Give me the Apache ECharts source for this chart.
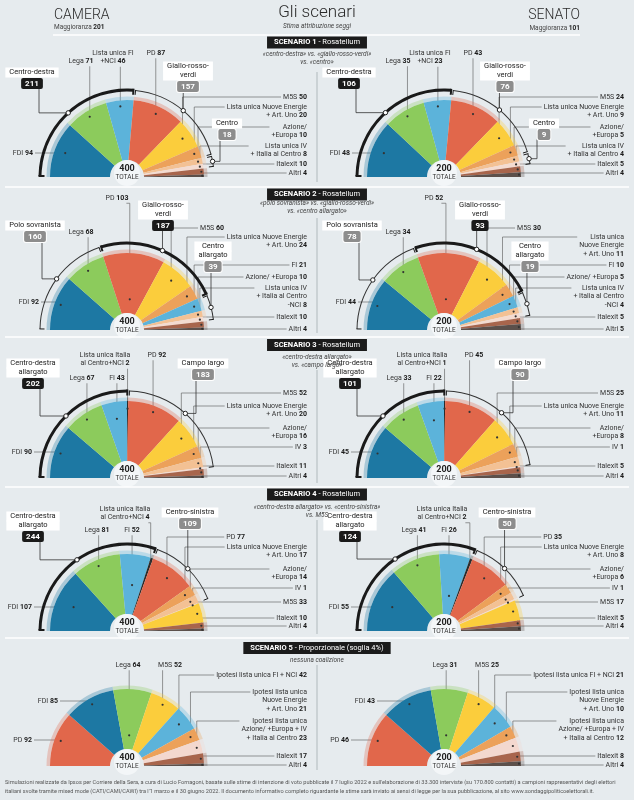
<!DOCTYPE html>
<html>
<head>
<meta charset="utf-8">
<script src="https://cdn.jsdelivr.net/npm/echarts@6/dist/echarts.min.js"></script>
<style>
html, body { margin: 0; background: #e6ebee; }
#chart { width: 634px; height: 800px; }
</style>
</head>
<body>
<div id="chart"></div>
<script>
"use strict";

const FONT = 'Roboto, "Noto Sans", sans-serif';

const colors = {
	fdi: "#1d78a3", lega: "#8ccb5c", fi: "#5cb3da", itc: "#2b2b2b", pd: "#e1674b",
	m5s: "#fbcd3c", ne: "#eca15a", az: "#f3c194", iv: "#f4dbd0", italexit: "#a8654c",
	altri: "#5c504b", aziv: "#f3d8cf"
};

// --- scenario 1
const s1Keys = ["fdi", "lega", "fi", "pd", "m5s", "ne", "az", "iv", "italexit", "altri"];
const s1Names = ["FDI", "Lega", "Lista unica FI\n+NCI", "PD", "M5S", "Lista unica Nuove Energie\n+ Art. Uno",
	"Azione/\n+Europa", "Lista unica IV\n+ Italia al Centro", "Italexit", "Altri"];
const s1Camera = [94, 71, 46, 87, 50, 20, 10, 8, 10, 4];
const s1Senato = [48, 35, 23, 43, 24, 9, 5, 4, 5, 4];
const s1Coalitions = ["Centro-destra", "Giallo-rosso-\nverdi", "Centro"];
const s1CoalSize = [3, 3, 2];
const s1Labels = [["L", -94, -24], ["T", -46, -116], ["T", -14, -124], ["T", 29, -124], ["R", 180, -80],
	["R", 180, -70], ["R", 180, -50], ["R", 180, -31], ["R", 180, -13], ["R", 180, -4]];
const s1CoalLabels = [[-95, -103], [61, -109], [100, -52]];

// --- scenario 2
const s2Keys = ["fdi", "lega", "pd", "m5s", "ne", "fi", "az", "iv", "italexit", "altri"];
const s2Names = ["FDI", "Lega", "PD", "M5S", "Lista unica Nuove Energie\n+ Art. Uno", "FI", "Azione/ +Europa",
	"Lista unica IV\n+ Italia al Centro\n-NCI", "Italexit", "Altri"];
const s2SenNames = ["FDI", "Lega", "PD", "M5S", "Lista unica\nNuove Energie\n+ Art. Uno", "FI", "Azione/ +Europa",
	"Lista unica IV\n+ Italia al Centro\n-NCI", "Italexit", "Altri"];
const s2Camera = [92, 68, 103, 60, 24, 21, 10, 8, 10, 4];
const s2Senato = [44, 34, 52, 30, 11, 10, 5, 4, 5, 5];
const s2Coalitions = ["Polo sovranista", "Giallo-rosso-\nverdi", "Centro\nallargato"];
const s2CoalSize = [2, 3, 3];
const s2Labels = [["L", -88, -28], ["T", -46, -98], ["T", -10, -132], ["R", 97, -102], ["R", 180, -93],
	["R", 180, -65], ["R", 180, -53], ["R", 180, -42], ["R", 180, -13], ["R", 180, -1]];
const s2CoalLabels = [[-92, -103], [36, -123], [86, -82]];

// --- scenario 3
const s3Keys = ["fdi", "lega", "fi", "itc", "pd", "m5s", "ne", "az", "iv", "italexit", "altri"];
const s3Names = ["FDI", "Lega", "FI", "Lista unica Italia\nal Centro+NCI", "PD", "M5S",
	"Lista unica Nuove Energie\n+ Art. Uno", "Azione/\n+Europa", "IV", "Italexit", "Altri"];
const s3Camera = [90, 67, 43, 2, 92, 52, 20, 16, 3, 11, 4];
const s3Senato = [45, 33, 22, 1, 45, 25, 11, 8, 1, 5, 4];
const s3Coalitions = ["Centro-destra\nallargato", "Campo largo"];
const s3CoalSize = [4, 5];
const s3Labels = [["L", -95, -26], ["T", -45, -100], ["T", -10, -100], ["T", -22, -123, 0.9], ["T", 30, -123],
	["R", 180, -85], ["R", 180, -72], ["R", 180, -50], ["R", 180, -31], ["R", 180, -12], ["R", 180, -2]];
const s3CoalLabels = [[-94, -113], [76, -113]];

// --- scenario 4
const s4Keys = ["fdi", "lega", "fi", "itc", "pd", "ne", "az", "iv", "m5s", "italexit", "altri"];
const s4Names = ["FDI", "Lega", "FI", "Lista unica Italia\nal Centro+NCI", "PD", "Lista unica Nuove Energie\n+ Art. Uno",
	"Azione/\n+Europa", "IV", "M5S", "Italexit", "Altri"];
const s4Camera = [107, 81, 52, 4, 77, 17, 14, 1, 33, 10, 4];
const s4Senato = [55, 41, 26, 2, 35, 8, 6, 1, 17, 5, 4];
const s4Coalitions = ["Centro-destra\nallargato", "Centro-sinistra"];
const s4CoalSize = [4, 4];
const s4Labels = [["L", -95, -24], ["T", -30, -101], ["T", 5, -101], ["T", -2, -122, 0.95], ["R", 118, -94],
	["R", 180, -84], ["R", 180, -62], ["R", 180, -43], ["R", 180, -29], ["R", 180, -13], ["R", 180, -5]];
const s4CoalLabels = [[-94, -113], [63, -117]];

// --- scenario 5
const s5Keys = ["pd", "fdi", "lega", "m5s", "fi", "ne", "aziv", "italexit", "altri"];
const s5Names = ["PD", "FDI", "Lega", "M5S", "Ipotesi lista unica FI + NCI", "Ipotesi lista unica\nNuove Energie\n+ Art. Uno",
	"Ipotesi lista unica\nAzione/ +Europa + IV\n+ Italia al Centro", "Italexit", "Altri"];
const s5Camera = [92, 85, 64, 52, 42, 21, 23, 17, 4];
const s5Senato = [46, 43, 31, 25, 21, 10, 12, 8, 4];
const s5Labels = [["L", -95, -26], ["L", -69, -65], ["T", 1, -101], ["T", 43, -101], ["R", 180, -91],
	["R", 180, -74], ["R", 180, -45], ["R", 180, -10], ["R", 180, -1]];

const scenarios = [
	{title: "SCENARIO 1", mode: " - Rosatellum", sub: ["«centro-destra» vs. «giallo-rosso-verdi»", "vs. «centro»"],
		keys: s1Keys, names: s1Names, senNames: s1Names, cam: s1Camera, sen: s1Senato,
		coal: s1Coalitions, coalSize: s1CoalSize, labels: s1Labels, coalLabels: s1CoalLabels},
	{title: "SCENARIO 2", mode: " - Rosatellum", sub: ["«polo sovranista» vs. «giallo-rosso-verdi»", "vs. «centro allargato»"],
		keys: s2Keys, names: s2Names, senNames: s2SenNames, cam: s2Camera, sen: s2Senato,
		coal: s2Coalitions, coalSize: s2CoalSize, labels: s2Labels, coalLabels: s2CoalLabels},
	{title: "SCENARIO 3", mode: " - Rosatellum", sub: ["«centro-destra allargato»", "vs. «campo largo»"],
		keys: s3Keys, names: s3Names, senNames: s3Names, cam: s3Camera, sen: s3Senato,
		coal: s3Coalitions, coalSize: s3CoalSize, labels: s3Labels, coalLabels: s3CoalLabels},
	{title: "SCENARIO 4", mode: " - Rosatellum", sub: ["«centro-destra allargato» vs. «centro-sinistra»", "vs. M5S"],
		keys: s4Keys, names: s4Names, senNames: s4Names, cam: s4Camera, sen: s4Senato,
		coal: s4Coalitions, coalSize: s4CoalSize, labels: s4Labels, coalLabels: s4CoalLabels},
	{title: "SCENARIO 5", mode: " - Proporzionale (soglia 4%)", sub: ["nessuna coalizione"],
		keys: s5Keys, names: s5Names, senNames: s5Names, cam: s5Camera, sen: s5Senato,
		coal: [], coalSize: [], labels: s5Labels, coalLabels: []}
];

// geometry
const CX = [127, 444];
const CY = [177, 330, 478, 631, 766];
const R0 = 17, R1 = 77, RIM = 80.5, RA = 87, PAD = 1.4, LH = 8.5;
const boxY = [42.5, 194.5, 345, 494.5, 648];
const subY = [54, 203, 357, 507, 660];
const sepY = [187, 337, 487, 638];
const vSep = [[72, 182], [218, 333], [370, 483], [520, 634], [665, 770]];

const mctx = document.createElement("canvas").getContext("2d");
function textW(s, font) {
	mctx.font = font;
	return Math.max(...s.split("\n").map((l) => mctx.measureText(l).width));
}
function polar(cx, cy, ang, r) {
	const a = ang * Math.PI / 180;
	return [cx + r * Math.cos(a), cy - r * Math.sin(a)];
}
function bestPoint(cx, cy, ang, cost) {
	let best, bd = Infinity;
	for (let f = 0.4; f <= 0.921; f += 0.02) {
		const p = polar(cx, cy, ang, f * R1);
		const d = cost(p);
		if (d < bd) { bd = d; best = p; }
	}
	return best;
}
const clamp = (v, a, b) => Math.min(Math.max(v, a), b);

const myChart = echarts.init(document.getElementById("chart"));
const series = [];
const g = [];

function txt(x, y, text, style, z) {
	g.push({type: "text", x: x, y: y, z: z || 60,
		style: Object.assign({text: text, fontFamily: FONT, fontSize: 7, fill: "#333",
			align: "left", verticalAlign: "middle"}, style)});
}

scenarios.forEach((sc, si) => {
	[sc.cam, sc.sen].forEach((vals, ci) => {
		const cx = CX[ci], cy = CY[si];
		const names = ci ? sc.senNames : sc.names;
		const total = vals.reduce((a, b) => a + b, 0);
		let cum = 0;
		const mids = vals.map((v) => {
			const a0 = 180 - 180 * cum / total;
			cum += v;
			return (a0 + 180 - 180 * cum / total) / 2;
		});
		const pts = sc.labels.map((l, i) => {
			const x = cx + l[1], y = cy + l[2];
			if (l[3]) return polar(cx, cy, mids[i], l[3] * R1);
			if (l[0] === "T") return bestPoint(cx, cy, mids[i], (p) => Math.abs(p[0] - x));
			if (l[0] === "L") return bestPoint(cx, cy, mids[i], (p) => Math.abs(p[1] - y));
			return polar(cx, cy, mids[i], R1 * (0.86 + 0.12 * (1 - Math.min(mids[i], 40) / 40)));
		});
		pts.forEach((p) => g.push({type: "circle", z: 70, shape: {cx: p[0], cy: p[1], r: 1.1}, style: {fill: "#333"}}));

		const mk = (op) => vals.map((v, i) => ({name: names[i], value: v,
			itemStyle: {color: colors[sc.keys[i]], opacity: op}}));

		// light rim
		series.push({type: "pie", silent: true, animation: false, center: [cx, cy], radius: [R1, RIM],
			startAngle: 180, endAngle: 0, label: {show: false}, labelLine: {show: false}, data: mk(0.3)});
		// seats
		series.push({type: "pie", silent: true, animation: false, center: [cx, cy], radius: [R0, R1],
			startAngle: 180, endAngle: 0, avoidLabelOverlap: false, data: mk(1),
			label: {show: true, position: "outside", overflow: "none", fontFamily: FONT, fontSize: 7,
				lineHeight: LH, color: "#333",
				formatter: (p) => p.name + " {b|" + p.value + "}",
				rich: {b: {fontFamily: FONT, fontSize: 7, lineHeight: LH, fontWeight: "bold", color: "#1a1a1a"}}},
			labelLine: {show: true, showAbove: true, lineStyle: {color: "#555", width: 0.6}},
			labelLayout: (p) => {
				const i = p.dataIndex, l = sc.labels[i], P = pts[i];
				const x = cx + l[1], y = cy + l[2], top = y - LH / 2;
				const w = p.labelRect.width, h = p.labelRect.height;
				if (l[0] === "L") {
					return {x: x, y: top, align: "right", verticalAlign: "top",
						labelLinePoints: [[x + 2, y], [P[0], y], P]};
				}
				if (l[0] === "T") {
					const ax = clamp(P[0], x - w / 2 + 2, x + w / 2 - 2);
					return {x: x, y: top, align: "center", verticalAlign: "top",
						labelLinePoints: [[ax, top + h + 1], [P[0], top + h + 1], P]};
				}
				return {x: x, y: top, align: "right", verticalAlign: "top",
					labelLinePoints: [[x - w - 2, y], [P[0], y], P]};
			}});

		// coalition arcs
		if (sc.coal.length) {
			const cv = [];
			let k = 0;
			sc.coalSize.forEach((n) => {
				cv.push(vals.slice(k, k + n).reduce((a, b) => a + b, 0));
				k += n;
			});
			const rest = total - cv.reduce((a, b) => a + b, 0);
			const big = cv.indexOf(Math.max(...cv));
			const cdata = cv.map((v, j) => ({name: sc.coal[j], value: v})).concat([{name: "", value: rest}]);
			const ends = [];
			let c2 = 0;
			const cmid = cv.map((v) => {
				const a0 = 180 - 180 * c2 / total;
				c2 += v;
				const a1 = 180 - 180 * c2 / total;
				ends.push([a0 - PAD / 2, a1 + PAD / 2]);
				return (a0 + a1) / 2;
			});
			const dots = cmid.map((a) => polar(cx, cy, a, RA));

			series.push({type: "pie", silent: true, animation: false, center: [cx, cy], radius: [RA - 1.5, RA + 1.5],
				startAngle: 180, endAngle: 0, padAngle: PAD, label: {show: false}, labelLine: {show: false},
				data: cdata.map((d, j) => ({name: d.name, value: d.value,
					itemStyle: {color: j === big ? "#1a1a1a" : "rgba(0,0,0,0)"}}))});

			const rich = {
				v: {backgroundColor: "#1a1a1a", color: "#fff", fontWeight: "bold", fontFamily: FONT, fontSize: 8,
					padding: [1.5, 4], borderRadius: 2, lineHeight: 13},
				g: {backgroundColor: "#8d8d8d", color: "#fff", fontWeight: "bold", fontFamily: FONT, fontSize: 8,
					padding: [1.5, 4], borderRadius: 2, borderColor: "#fff", borderWidth: 1, lineHeight: 13}
			};
			sc.coal.forEach((nm, j) => {
				rich["n" + j] = {backgroundColor: "#fff", color: "#222", fontFamily: FONT, fontSize: 7.5,
					width: textW(nm, "7.5px " + FONT) + 2, align: "center", padding: [1, 3], lineHeight: 9};
			});
			series.push({type: "pie", silent: true, animation: false, center: [cx, cy], radius: [RA - 0.5, RA + 0.5],
				startAngle: 180, endAngle: 0, padAngle: PAD, avoidLabelOverlap: false,
				data: cdata.map((d, j) => ({name: d.name, value: d.value,
					itemStyle: {color: j !== big && j < cv.length ? "#333" : "rgba(0,0,0,0)"},
					label: {show: j < cv.length}})),
				label: {position: "outside", overflow: "none", fontFamily: FONT, fontSize: 7.5, rich: rich,
					formatter: (p) => p.name.split("\n").map((s) => "{n" + p.dataIndex + "|" + s + "}").join("\n") +
						"\n{" + (p.dataIndex === big ? "v" : "g") + "|" + p.value + "}"},
				labelLine: {show: true, showAbove: true, lineStyle: {color: "#333", width: 0.8}},
				labelLayout: (p) => {
					const j = p.dataIndex;
					if (j >= cv.length) return {};
					const x = cx + sc.coalLabels[j][0], top = cy + sc.coalLabels[j][1] - 6;
					const h = p.labelRect.height, D = dots[j];
					const ax = clamp(D[0], x - 7, x + 7);
					return {x: x, y: top, align: "center", verticalAlign: "top",
						labelLinePoints: [[ax, top + h - 2], [ax, D[1]], D]};
				}});

			ends.forEach((e, j) => {
				e.forEach((a) => {
					const p0 = polar(cx, cy, a, RA - 4.5), p1 = polar(cx, cy, a, RA + (j === big ? 1.5 : 0.5));
					g.push({type: "line", z: 65, shape: {x1: p0[0], y1: p0[1], x2: p1[0], y2: p1[1]},
						style: {stroke: "#1a1a1a", lineWidth: j === big ? 2 : 1}});
				});
			});
			dots.forEach((d) => g.push({type: "circle", z: 75, shape: {cx: d[0], cy: d[1], r: 2.2},
				style: {fill: "#fff", stroke: "#222", lineWidth: 1}}));
		}

		// total in the middle
		series.push({type: "pie", silent: true, animation: false, center: [cx, cy - 4], radius: [0, 13],
			startAngle: 90, data: [{name: "TOTALE", value: total}], itemStyle: {color: "#f3f6f8"},
			labelLine: {show: false},
			label: {show: true, position: "center", formatter: "{t|" + total + "}\n{s|TOTALE}",
				rich: {t: {fontFamily: FONT, fontSize: 9, fontWeight: "bold", color: "#222", lineHeight: 9},
					s: {fontFamily: FONT, fontSize: 6.5, color: "#333", lineHeight: 8}}}});
	});

	// scenario header
	txt(317, boxY[si], "{b|" + sc.title + "}" + sc.mode, {align: "center", fill: "#fff", fontSize: 7.5,
		backgroundColor: "#1b1b1b", padding: [2, 7, 2, 7],
		rich: {b: {fontWeight: "bold", fill: "#fff", fontSize: 7.5, fontFamily: FONT}}}, 80);
	sc.sub.forEach((s, k) => txt(317, subY[si] + k * 8.5, s, {align: "center", fontStyle: "italic", fontSize: 6.5, fill: "#444"}));
	g.push({type: "line", z: 10, shape: {x1: 317, y1: vSep[si][0], x2: 317, y2: vSep[si][1]},
		style: {stroke: "#9aa3a8", lineWidth: 0.7}});
});

// page header
txt(54, 15, "CAMERA", {fontSize: 14, fontWeight: 300, fill: "#2a2a2a"});
txt(54, 27.5, "Maggioranza {b|201}", {fontSize: 6.5, fill: "#444", rich: {b: {fontWeight: "bold", fontSize: 6.5, fill: "#222", fontFamily: FONT}}});
txt(580, 15, "SENATO", {align: "right", fontSize: 14, fontWeight: 300, fill: "#2a2a2a"});
txt(580, 28, "Maggioranza {b|101}", {align: "right", fontSize: 6.5, fill: "#444", rich: {b: {fontWeight: "bold", fontSize: 6.5, fill: "#222", fontFamily: FONT}}});
txt(317, 13, "Gli scenari", {align: "center", fontSize: 17, fontWeight: 300, fill: "#2a2a2a"});
txt(317, 26, "Stima attribuzione seggi", {align: "center", fontSize: 6.5, fontStyle: "italic", fill: "#444"});
g.push({type: "line", z: 5, shape: {x1: 53, y1: 35, x2: 580, y2: 35}, style: {stroke: "#fff", lineWidth: 1.5}});
sepY.forEach((y) => g.push({type: "line", z: 5, shape: {x1: 5, y1: y, x2: 629, y2: y}, style: {stroke: "#fff", lineWidth: 1.5}}));

// footer
txt(5, 783, "Simulazioni realizzate da Ipsos per Corriere della Sera, a cura di Lucio Fornagoni, basate sulle stime di intenzione di voto pubblicate il 7 luglio 2022 e sull'elaborazione di 33.300 interviste (su 170.800 contatti) a campioni rappresentativi degli elettori", {fontSize: 5.6, fill: "#555"});
txt(5, 791.5, "italiani svolte tramite mixed mode (CATI/CAMI/CAWI) tra l'1 marzo e il 30 giugno 2022. Il documento informativo completo riguardante le stime sarà inviato ai sensi di legge per la sua pubblicazione, al sito www.sondaggipoliticoelettorali.it.", {fontSize: 5.6, fill: "#555"});

myChart.setOption({
	backgroundColor: "#e6ebee",
	animation: false,
	series: series,
	graphic: g
});
</script>
</body>
</html>
